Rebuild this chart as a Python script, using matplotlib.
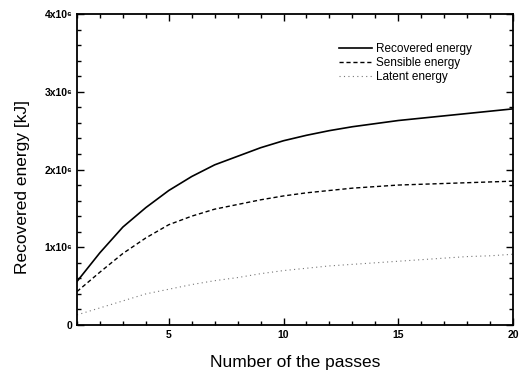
import matplotlib
matplotlib.use("Agg")
import matplotlib.pyplot as plt
from matplotlib.ticker import MultipleLocator, FuncFormatter

plt.rcParams['font.family'] = ['Liberation Sans', 'DejaVu Sans']

# number of passes
passes = list(range(1, 21))
# energies in units of 1e6 kJ
recovered = [0.56, 0.93, 1.26, 1.51, 1.73, 1.91, 2.06, 2.17, 2.28, 2.37,
             2.44, 2.50, 2.55, 2.59, 2.63, 2.66, 2.69, 2.72, 2.75, 2.78]
sensible = [0.43, 0.68, 0.92, 1.12, 1.29, 1.40, 1.49, 1.55, 1.61, 1.66,
            1.70, 1.73, 1.76, 1.78, 1.80, 1.81, 1.82, 1.83, 1.84, 1.85]
latent = [0.13, 0.22, 0.31, 0.40, 0.46, 0.52, 0.57, 0.61, 0.66, 0.70,
          0.73, 0.76, 0.78, 0.80, 0.82, 0.84, 0.86, 0.88, 0.89, 0.91]

fig = plt.figure(figsize=(5.29, 3.74), dpi=100)
ax = fig.add_axes([77 / 529, 1 - 325 / 374, 436 / 529, 311 / 374])

ax.plot(passes, [v * 1e6 for v in recovered], color='black', lw=1.2, ls='-', label='Recovered energy')
ax.plot(passes, [v * 1e6 for v in sensible], color='black', lw=1.0, ls=(0, (3, 2)), label='Sensible energy')
ax.plot(passes, [v * 1e6 for v in latent], color='#777777', lw=0.8, ls=(0, (1, 3)), label='Latent energy')

ax.set_xlim(1, 20)
ax.set_ylim(0, 4e6)
ax.xaxis.set_major_locator(MultipleLocator(5))
ax.xaxis.set_minor_locator(MultipleLocator(1))
ax.yaxis.set_major_locator(MultipleLocator(1e6))
ax.yaxis.set_minor_locator(MultipleLocator(2e5))


def yfmt(v, pos):
    n = int(round(v / 1e6))
    return '0' if n == 0 else f'{n}x10\u2076'


ax.yaxis.set_major_formatter(FuncFormatter(yfmt))
ax.tick_params(which='both', direction='in', top=True, right=True, width=1.0)
ax.tick_params(which='major', length=5, labelsize=7.5)
ax.tick_params(which='minor', length=3)
for lab in ax.get_xticklabels() + ax.get_yticklabels():
    lab.set_fontweight('bold')
for sp in ax.spines.values():
    sp.set_linewidth(1.3)

ax.set_xlabel('Number of the passes', fontsize=12.5)
ax.set_ylabel('Recovered energy [kJ]', fontsize=12.5)
ax.xaxis.set_label_coords(0.5, -0.095)
ax.yaxis.set_label_coords(-0.107, 0.445)

ax.legend(loc='upper right', bbox_to_anchor=(0.93, 0.94), frameon=False, fontsize=8.5,
          handlelength=2.8, handletextpad=0.3, labelspacing=0.15)

fig.savefig('out.png', dpi=100)
